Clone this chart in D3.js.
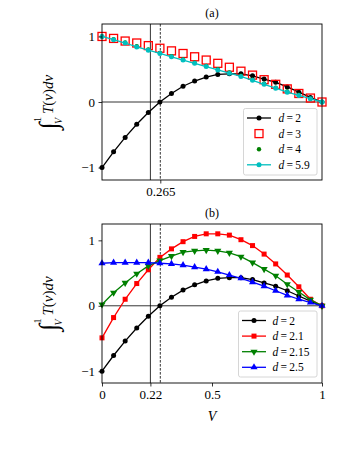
<!DOCTYPE html>
<html>
<head>
<meta charset="utf-8">
<script src="https://d3js.org/d3.v7.min.js"></script>
<style>
  body { margin: 0; background: #fff; }
  svg { display: block; }
</style>
</head>
<body>
<svg id="chart" width="350" height="450"></svg>
<script>
// V grid: 20 equally spaced points from 0 to 1
const vGrid = d3.range(20).map(i => i / 19);

// panel (a)
const a_d2   = [-1.0, -0.76, -0.54, -0.34, -0.16, 0.0, 0.13, 0.24, 0.32, 0.38, 0.42, 0.43, 0.43, 0.40, 0.35, 0.30, 0.23, 0.15, 0.07, 0.0];
const a_d3   = [1.0, 0.97, 0.93, 0.90, 0.86, 0.82, 0.78, 0.74, 0.69, 0.64, 0.59, 0.53, 0.47, 0.41, 0.34, 0.27, 0.20, 0.13, 0.06, 0.0];
const a_d4   = [1.0, 0.96, 0.91, 0.85, 0.80, 0.75, 0.70, 0.65, 0.60, 0.55, 0.50, 0.45, 0.40, 0.34, 0.28, 0.22, 0.16, 0.11, 0.05, 0.0];
const a_d59  = [1.0, 0.95, 0.90, 0.84, 0.79, 0.74, 0.69, 0.64, 0.59, 0.54, 0.49, 0.44, 0.39, 0.33, 0.27, 0.21, 0.15, 0.10, 0.05, 0.0];

// panel (b)
const b_d2   = a_d2;
const b_d21  = [-0.49, -0.18, 0.10, 0.34, 0.55, 0.74, 0.87, 0.98, 1.06, 1.10, 1.10, 1.08, 1.01, 0.92, 0.79, 0.64, 0.47, 0.29, 0.10, 0.0];
const b_d215 = [0.02, 0.20, 0.35, 0.49, 0.61, 0.69, 0.76, 0.82, 0.84, 0.85, 0.84, 0.81, 0.75, 0.66, 0.56, 0.46, 0.33, 0.21, 0.09, 0.0];
const b_d25  = [0.65, 0.66, 0.66, 0.66, 0.66, 0.65, 0.64, 0.62, 0.59, 0.56, 0.52, 0.47, 0.42, 0.36, 0.30, 0.23, 0.16, 0.10, 0.05, 0.0];

const yTicks = [-1, 0, 1];
const a_xTicks = [0.265];
const b_xTicks = [0, 0.22, 0.5, 1];
const vSolid = 0.22, vDashed = 0.265;

const FONT = "Liberation Serif";
const svg = d3.select("#chart");

function marker(g, type, x, y, color) {
  if (type === "circle") {
    g.append("circle").attr("cx", x).attr("cy", y).attr("r", 2.5).attr("fill", color);
  } else if (type === "dot") {
    g.append("circle").attr("cx", x).attr("cy", y).attr("r", 2.2).attr("fill", color);
  } else if (type === "opensq") {
    g.append("rect").attr("x", x - 4).attr("y", y - 4).attr("width", 8).attr("height", 8)
      .attr("fill", "none").attr("stroke", color).attr("stroke-width", 1.3);
  } else if (type === "square") {
    g.append("rect").attr("x", x - 2.5).attr("y", y - 2.5).attr("width", 5).attr("height", 5).attr("fill", color);
  } else if (type === "tridown" || type === "triup") {
    g.append("path").attr("d", d3.symbol(d3.symbolTriangle, 22)())
      .attr("transform", `translate(${x},${y})` + (type === "tridown" ? " rotate(180)" : ""))
      .attr("fill", color);
  }
}

function drawPanel(cfg) {
  const x = d3.scaleLinear().domain([0, 1]).range([102, 322]);
  const y = d3.scaleLinear().domain(cfg.yDomain).range([cfg.bottom, cfg.top]);
  const g = svg.append("g").attr("font-family", FONT);

  // reference lines
  g.append("line").attr("x1", x(0)).attr("x2", x(1)).attr("y1", y(0)).attr("y2", y(0))
    .attr("stroke", "#000").attr("stroke-width", 0.8);
  g.append("line").attr("x1", x(vSolid)).attr("x2", x(vSolid)).attr("y1", cfg.top).attr("y2", cfg.bottom)
    .attr("stroke", "#000").attr("stroke-width", 0.8);
  g.append("line").attr("x1", x(vDashed)).attr("x2", x(vDashed)).attr("y1", cfg.top).attr("y2", cfg.bottom)
    .attr("stroke", "#000").attr("stroke-width", 0.8).attr("stroke-dasharray", "2.6,1.4");

  const line = d3.line().x((d, i) => x(vGrid[i])).y(d => y(d));
  cfg.series.forEach(s => {
    if (s.line) {
      g.append("path").datum(s.values).attr("d", line)
        .attr("fill", "none").attr("stroke", s.color).attr("stroke-width", 1.3);
    }
    s.values.forEach((v, i) => marker(g, s.marker, x(vGrid[i]), y(v), s.color));
  });

  // axes
  const yAxis = g.append("g").attr("transform", `translate(${x(0)},0)`)
    .call(d3.axisLeft(y).tickValues(yTicks).tickSize(3.5).tickPadding(3.5)
      .tickFormat(d => d < 0 ? "\u2212" + Math.abs(d) : d));
  const xAxis = g.append("g").attr("transform", `translate(0,${cfg.bottom})`)
    .call(d3.axisBottom(x).tickValues(cfg.xTicks).tickSize(3.5).tickPadding(3.5)
      .tickFormat(d => String(d)));
  [xAxis, yAxis].forEach(ax => {
    ax.attr("font-family", FONT).attr("font-size", 13);
    ax.select(".domain").remove();
    ax.selectAll("line").attr("stroke", "#000").attr("stroke-width", 0.8);
    ax.selectAll("text").attr("fill", "#000");
  });

  // frame
  g.append("rect").attr("x", x(0)).attr("y", cfg.top).attr("width", x(1) - x(0)).attr("height", cfg.bottom - cfg.top)
    .attr("fill", "none").attr("stroke", "#000").attr("stroke-width", 0.9);

  // title
  g.append("text").attr("x", (x(0) + x(1)) / 2).attr("y", cfg.top - 7)
    .attr("text-anchor", "middle").attr("font-size", 12).text(cfg.title);

  // y label
  const cy = (cfg.top + cfg.bottom) / 2;
  const lab = g.append("text").attr("transform", `translate(53,${cy}) rotate(-90)`)
    .attr("text-anchor", "middle").attr("font-size", 15);
  lab.append("tspan").attr("font-size", 26).attr("dy", 4).text("\u222B");
  lab.append("tspan").attr("font-size", 10).attr("font-style", "italic").attr("dy", 5).attr("dx", -2).text("V");
  lab.append("tspan").attr("font-size", 10).attr("dy", -21).attr("dx", -4).text("1");
  lab.append("tspan").attr("font-style", "italic").attr("dy", 12).attr("dx", 3).text("T");
  lab.append("tspan").text("(");
  lab.append("tspan").attr("font-style", "italic").text("v");
  lab.append("tspan").text(")");
  lab.append("tspan").attr("font-style", "italic").text("dv");

  // x label
  if (cfg.xLabel) {
    g.append("text").attr("x", (x(0) + x(1)) / 2).attr("y", cfg.bottom + 38)
      .attr("text-anchor", "middle").attr("font-size", 14).attr("font-style", "italic").text(cfg.xLabel);
  }

  // legend
  const L = cfg.legend;
  const lg = g.append("g");
  lg.append("rect").attr("x", L.x).attr("y", L.y).attr("width", L.w).attr("height", L.h).attr("rx", 2)
    .attr("fill", "#fff").attr("fill-opacity", 0.85).attr("stroke", "#ccc").attr("stroke-width", 0.8);
  cfg.series.forEach((s, i) => {
    const ey = L.y + 9.5 + i * 15.6;
    const hx0 = L.x + 3.5, hx1 = L.x + 27.5, hm = (hx0 + hx1) / 2;
    if (s.line) {
      lg.append("line").attr("x1", hx0).attr("x2", hx1).attr("y1", ey).attr("y2", ey)
        .attr("stroke", s.color).attr("stroke-width", 1.3);
    }
    marker(lg, s.marker, hm, ey, s.color);
    const t = lg.append("text").attr("x", L.x + L.tx).attr("y", ey + 4).attr("font-size", 11.5);
    t.append("tspan").attr("font-style", "italic").text("d");
    t.append("tspan").text("\u2009=\u2009" + s.label);
  });
}

drawPanel({
  title: "(a)", top: 24, bottom: 180, yDomain: [-1.19, 1.19], xTicks: a_xTicks,
  series: [
    { label: "2",   values: a_d2,  color: "#000",    marker: "circle", line: true },
    { label: "3",   values: a_d3,  color: "#ff0000", marker: "opensq", line: false },
    { label: "4",   values: a_d4,  color: "#008000", marker: "dot",    line: false },
    { label: "5.9", values: a_d59, color: "#00bfbf", marker: "circle", line: true }
  ],
  legend: { x: 243.5, y: 108.5, w: 73.5, h: 66.5, tx: 35 }
});

drawPanel({
  title: "(b)", top: 224, bottom: 383, yDomain: [-1.18, 1.25], xTicks: b_xTicks, xLabel: "V",
  series: [
    { label: "2",    values: b_d2,   color: "#000",    marker: "circle", line: true },
    { label: "2.1",  values: b_d21,  color: "#ff0000", marker: "square", line: true },
    { label: "2.15", values: b_d215, color: "#008000", marker: "tridown", line: true },
    { label: "2.5",  values: b_d25,  color: "#0000ff", marker: "triup",  line: true }
  ],
  legend: { x: 238.5, y: 311, w: 78.5, h: 66, tx: 34 }
});
</script>
</body>
</html>
